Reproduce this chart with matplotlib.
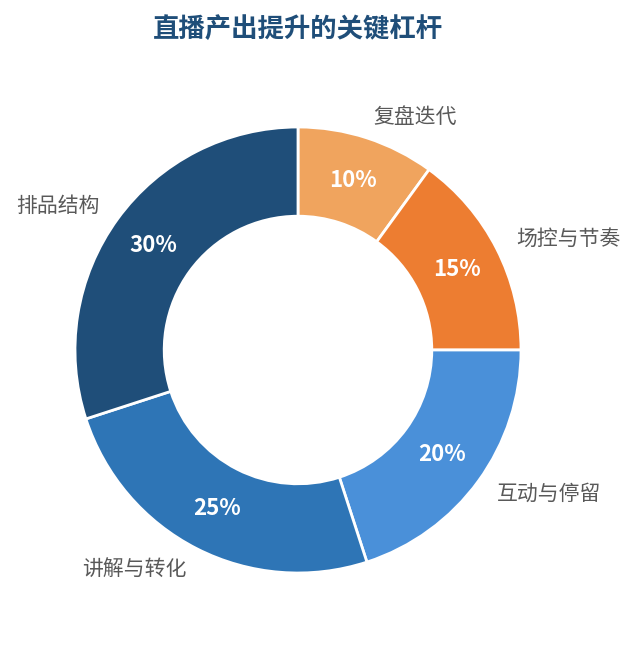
import matplotlib
matplotlib.use('Agg')
import matplotlib.pyplot as plt

plt.rcParams['font.family'] = ['Noto Sans CJK SC', 'DejaVu Sans']

labels = ['复盘迭代', '场控与节奏', '互动与停留', '讲解与转化', '排品结构']
values = [10, 15, 20, 25, 30]
colors = ['#F0A45E', '#ED7D31', '#4A90D9', '#2E75B6', '#1F4E79']
title = '直播产出提升的关键杠杆'

W, H = 637, 645
cx, cy, r = 298, 350, 223

fig = plt.figure(figsize=(W / 100, H / 100), dpi=100)
ax = fig.add_axes([(cx - r) / W, (H - cy - r) / H, 2 * r / W, 2 * r / H])

wedges, texts, autotexts = ax.pie(
    values, labels=labels, colors=colors, startangle=90, counterclock=False,
    autopct='%d%%', pctdistance=0.8, labeldistance=1.1,
    wedgeprops=dict(width=0.4, edgecolor='white', linewidth=2),
    textprops=dict(fontsize=15, color='#595959'))

for t in autotexts:
    t.set_color('white')
    t.set_fontweight('bold')
    t.set_fontsize(16)

ax.set_xlim(-1, 1)
ax.set_ylim(-1, 1)
ax.set_aspect('equal')

fig.text(cx / W, 1 - 29 / H, title, ha='center', va='center',
         fontsize=19, fontweight='bold', color='#1F4E79')

fig.savefig('out.png', dpi=100)
